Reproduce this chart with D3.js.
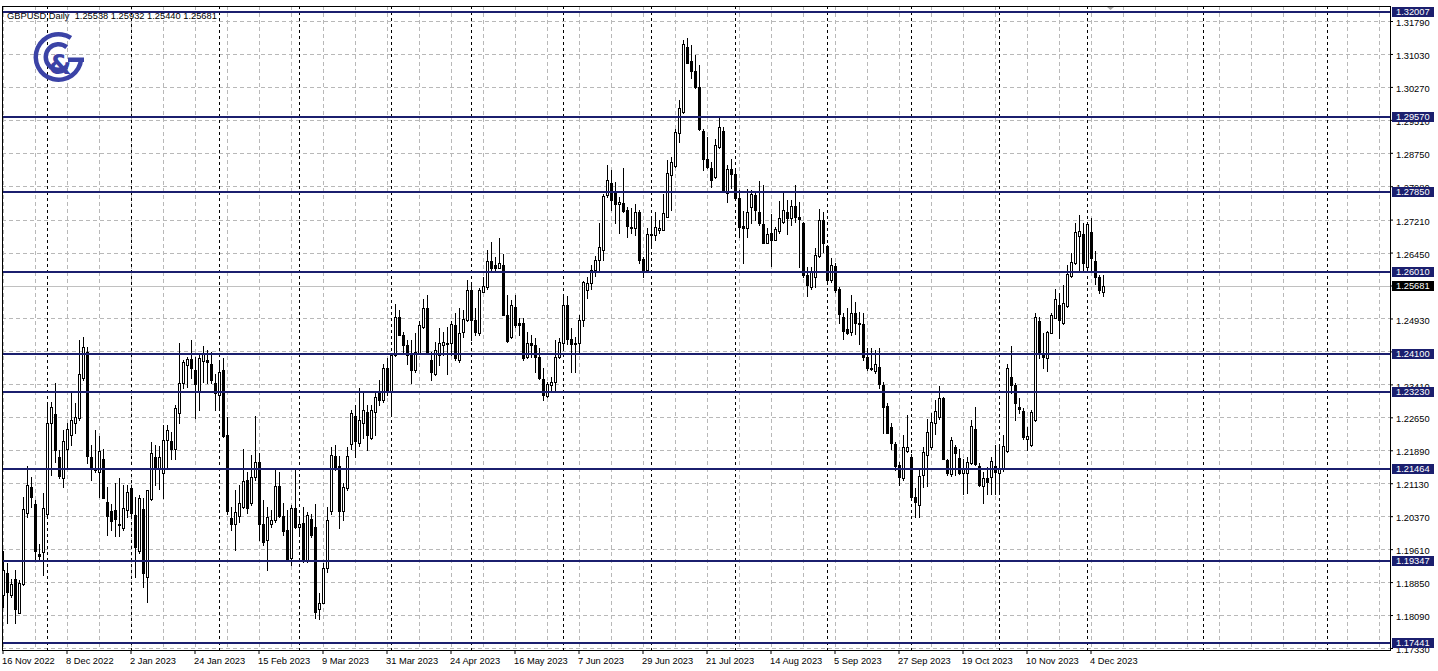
<!DOCTYPE html>
<html><head><meta charset="utf-8">
<script src="https://cdn.jsdelivr.net/npm/d3@7"></script>
<style>html,body{margin:0;padding:0;background:#fff;overflow:hidden}svg{display:block}</style>
</head><body><div id="chart"></div>
<script>
const titleText = "GBPUSD,Daily  1.25538 1.25932 1.25440 1.25681";
const startDate = "2022-11-16";
const holidays = ["2022-12-26"];

const open = [
1.1855,1.1907,1.1855,1.1893,1.1814,1.1880,1.2045,1.2105,1.2065,1.1949,
1.1955,1.2043,1.2253,1.2272,1.2173,1.2124,1.2191,1.2224,1.2253,1.2263,
1.2355,1.2416,1.2174,1.2143,1.2140,1.2168,1.2069,1.2050,1.2051,1.2020,
1.2009,1.2051,1.2101,1.2040,1.1957,1.2053,1.1897,1.2076,1.2174,1.2146,
1.2136,1.2213,1.2210,1.2191,1.2276,1.2343,1.2386,1.2399,1.2374,1.2324,
1.2396,1.2397,1.2388,1.2345,1.2316,1.2374,1.2224,1.2032,1.2018,1.2037,
1.2059,1.2120,1.2067,1.2128,1.2163,1.2019,1.1983,1.2020,1.2028,1.2107,
1.2037,1.2005,1.1940,1.2055,1.2011,1.2022,1.1933,1.2030,1.2011,1.1824,
1.1837,1.1917,1.2050,1.2176,1.2153,1.2050,1.2103,1.2203,1.2268,1.2206,
1.2253,1.2278,1.2218,1.2278,1.2320,1.2305,1.2378,1.2324,1.2409,1.2496,
1.2456,1.2432,1.2412,1.2374,1.2412,1.2474,1.2516,1.2397,1.2366,1.2409,
1.2432,1.2437,1.2436,1.2478,1.2397,1.2461,1.2489,1.2559,1.2489,1.2459,
1.2555,1.2566,1.2625,1.2616,1.2610,1.2616,1.2502,1.2451,1.2520,1.2482,
1.2482,1.2405,1.2436,1.2432,1.2405,1.2353,1.2315,1.2339,1.2347,1.2405,
1.2437,1.2525,1.2445,1.2435,1.2437,1.2490,1.2558,1.2574,1.2605,1.2628,
1.2652,1.2778,1.2806,1.2783,1.2756,1.2760,1.2743,1.2705,1.2702,1.2739,
1.2629,1.2605,1.2685,1.2685,1.2698,1.2698,1.2728,1.2824,1.2844,1.2921,
1.2970,1.3118,1.3087,1.3064,1.3026,1.2925,1.2860,1.2841,1.2820,1.2888,
1.2925,1.2783,1.2837,1.2826,1.2770,1.2706,1.2701,1.2749,1.2778,1.2738,
1.2711,1.2668,1.2691,1.2675,1.2695,1.2716,1.2738,1.2724,1.2752,1.2726,
1.2714,1.2593,1.2565,1.2588,1.2637,1.2719,1.2659,1.2582,1.2614,1.2560,
1.2497,1.2468,1.2462,1.2505,1.2483,1.2480,1.2403,1.2378,1.2372,1.2380,
1.2339,1.2291,1.2243,1.2203,1.2155,1.2124,1.2188,1.2173,1.2082,1.2063,
1.2132,1.2178,1.2197,1.2252,1.2266,1.2309,1.2166,1.2134,1.2197,1.2172,
1.2136,1.2137,1.2159,1.2239,1.2153,1.2106,1.2124,1.2128,1.2153,1.2137,
1.2145,1.2188,1.2359,1.2339,1.2288,1.2279,1.2214,1.2201,1.2259,1.2488,
1.2414,1.2401,1.2460,1.2495,1.2525,1.2483,1.2522,1.2591,1.2620,1.2684,
1.2688,1.2612,1.2692,1.2625,1.2588,1.25538];

const high = [
1.1957,1.1928,1.1893,1.1914,1.1890,1.2082,1.2153,1.2128,1.2074,1.1974,
1.2090,1.2301,1.2301,1.2343,1.2190,1.2236,1.2253,1.2324,1.2299,1.2443,
1.2451,1.2428,1.2201,1.2236,1.2222,1.2193,1.2105,1.2066,1.2113,1.2124,
1.2109,1.2109,1.2109,1.2082,1.2086,1.2078,1.2097,1.2209,1.2201,1.2199,
1.2247,1.2247,1.2232,1.2293,1.2436,1.2397,1.2405,1.2443,1.2403,1.2413,
1.2430,1.2420,1.2416,1.2366,1.2397,1.2401,1.2266,1.2059,1.2097,1.2109,
1.2193,1.2140,1.2178,1.2268,1.2182,1.2074,1.2059,1.2051,1.2147,1.2140,
1.2067,1.2051,1.2063,1.2147,1.2032,1.2059,1.2047,1.2043,1.2065,1.1859,
1.1930,1.2059,1.2197,1.2201,1.2176,1.2113,1.2197,1.2283,1.2293,1.2332,
1.2324,1.2293,1.2293,1.2324,1.2351,1.2387,1.2401,1.2412,1.2526,1.2512,
1.2462,1.2443,1.2443,1.2459,1.2486,1.2539,1.2547,1.2416,1.2439,1.2470,
1.2462,1.2474,1.2486,1.2505,1.2516,1.2512,1.2582,1.2574,1.2516,1.2564,
1.2589,1.2651,1.2670,1.2635,1.2679,1.2641,1.2547,1.2536,1.2547,1.2493,
1.2493,1.2462,1.2455,1.2447,1.2424,1.2378,1.2347,1.2359,1.2443,1.2447,
1.2545,1.2545,1.2470,1.2450,1.2500,1.2580,1.2589,1.2616,1.2636,1.2712,
1.2781,1.2847,1.2835,1.2808,1.2774,1.2839,1.2751,1.2747,1.2758,1.2743,
1.2635,1.2701,1.2728,1.2739,1.2720,1.2781,1.2858,1.2866,1.2931,1.2997,
1.3135,1.3139,1.3124,1.3101,1.3078,1.2931,1.2912,1.2854,1.2908,1.2957,
1.2935,1.2847,1.2860,1.2835,1.2789,1.2740,1.2791,1.2789,1.2782,1.2809,
1.2800,1.2701,1.2735,1.2705,1.2765,1.2785,1.2766,1.2766,1.2801,1.2762,
1.2716,1.2612,1.2611,1.2655,1.2745,1.2739,1.2662,1.2632,1.2620,1.2566,
1.2505,1.2516,1.2547,1.2532,1.2509,1.2505,1.2424,1.2424,1.2420,1.2424,
1.2347,1.2297,1.2251,1.2209,1.2163,1.2224,1.2270,1.2180,1.2101,1.2143,
1.2197,1.2260,1.2274,1.2306,1.2337,1.2312,1.2170,1.2220,1.2201,1.2193,
1.2170,1.2174,1.2259,1.2288,1.2159,1.2139,1.2151,1.2174,1.2201,1.2197,
1.2224,1.2389,1.2429,1.2345,1.2309,1.2286,1.2243,1.2282,1.2505,1.2497,
1.2459,1.2465,1.2505,1.2560,1.2551,1.2570,1.2616,1.2643,1.2714,1.2732,
1.2712,1.2712,1.2724,1.2649,1.2593,1.25932];

const low = [
1.1828,1.1790,1.1851,1.1790,1.1813,1.1878,1.2036,1.2059,1.1936,1.1936,
1.1901,1.2040,1.2132,1.2163,1.2124,1.2105,1.2151,1.2201,1.2228,1.2259,
1.2351,1.2159,1.2120,1.2140,1.2082,1.2078,1.1993,1.2005,1.1991,1.1991,
1.2006,1.2036,1.2036,1.1897,1.1953,1.1874,1.1840,1.2074,1.2109,1.2099,
1.2080,1.2151,1.2170,1.2168,1.2253,1.2332,1.2336,1.2355,1.2263,1.2282,
1.2347,1.2343,1.2345,1.2282,1.2282,1.2220,1.2043,1.2005,1.1960,1.2024,
1.2055,1.2045,1.2063,1.2120,1.1982,1.1970,1.1914,1.2013,1.2024,1.2036,
1.1993,1.1934,1.1924,1.2009,1.1997,1.1932,1.1932,1.1990,1.1803,1.1801,
1.1836,1.1909,1.2043,1.2143,1.2009,1.2028,1.2097,1.2193,1.2174,1.2199,
1.2217,1.2190,1.2214,1.2225,1.2293,1.2301,1.2316,1.2275,1.2407,1.2455,
1.2412,1.2389,1.2343,1.2370,1.2410,1.2472,1.2410,1.2351,1.2362,1.2386,
1.2409,1.2366,1.2409,1.2397,1.2393,1.2451,1.2486,1.2443,1.2455,1.2456,
1.2553,1.2562,1.2601,1.2601,1.2609,1.2501,1.2439,1.2447,1.2474,1.2455,
1.2397,1.2402,1.2405,1.2370,1.2353,1.2305,1.2313,1.2328,1.2324,1.2401,
1.2420,1.2435,1.2370,1.2370,1.2410,1.2475,1.2540,1.2560,1.2590,1.2605,
1.2628,1.2774,1.2743,1.2712,1.2689,1.2739,1.2681,1.2689,1.2685,1.2620,
1.2589,1.2601,1.2658,1.2674,1.2689,1.2697,1.2726,1.2743,1.2843,1.2901,
1.2966,1.3081,1.3047,1.3024,1.2928,1.2835,1.2839,1.2797,1.2816,1.2885,
1.2784,1.2762,1.2795,1.2766,1.2681,1.2620,1.2680,1.2712,1.2720,1.2709,
1.2666,1.2666,1.2614,1.2674,1.2691,1.2712,1.2688,1.2709,1.2716,1.2612,
1.2589,1.2545,1.2562,1.2565,1.2635,1.2647,1.2580,1.2578,1.2555,1.2482,
1.2445,1.2457,1.2455,1.2457,1.2434,1.2397,1.2374,1.2374,1.2368,1.2332,
1.2229,1.2228,1.2191,1.2143,1.2109,1.2120,1.2186,1.2074,1.2036,1.2034,
1.2105,1.2106,1.2193,1.2226,1.2262,1.2168,1.2132,1.2129,1.2132,1.2134,
1.2089,1.2091,1.2157,1.2155,1.2106,1.2068,1.2089,1.2089,1.2089,1.2089,
1.2142,1.2186,1.2320,1.2259,1.2274,1.2216,1.2189,1.2199,1.2257,1.2401,
1.2378,1.2372,1.2459,1.2493,1.2447,1.2480,1.2520,1.2588,1.2618,1.2605,
1.2605,1.2603,1.2603,1.2572,1.2551,1.25440];

const close = [
1.1914,1.1863,1.1880,1.1822,1.1884,1.2053,1.2110,1.2082,1.1957,1.1945,
1.2057,1.2253,1.2288,1.2190,1.2130,1.2210,1.2237,1.2259,1.2265,1.2366,
1.2428,1.2176,1.2151,1.2147,1.2187,1.2080,1.2037,1.2026,1.2030,1.2016,
1.2055,1.2092,1.2045,1.1965,1.2078,1.1907,1.2097,1.2183,1.2147,1.2174,
1.2213,1.2236,1.2192,1.2286,1.2343,1.2393,1.2399,1.2378,1.2341,1.2401,
1.2414,1.2393,1.2351,1.2320,1.2370,1.2223,1.2050,1.2020,1.2047,1.2068,
1.2117,1.2055,1.2128,1.2163,1.2020,1.1978,1.2036,1.2028,1.2107,1.2037,
1.2003,1.1936,1.2057,1.2011,1.2020,1.1936,1.2040,1.1993,1.1817,1.1837,
1.1917,1.2028,1.2178,1.2151,1.2050,1.2105,1.2176,1.2274,1.2211,1.2259,
1.2282,1.2224,1.2282,1.2313,1.2305,1.2378,1.2324,1.2409,1.2497,1.2456,
1.2432,1.2409,1.2374,1.2416,1.2479,1.2516,1.2412,1.2370,1.2420,1.2436,
1.2438,1.2433,1.2480,1.2401,1.2460,1.2492,1.2559,1.2489,1.2461,1.2559,
1.2568,1.2625,1.2610,1.2610,1.2620,1.2502,1.2441,1.2524,1.2478,1.2478,
1.2401,1.2436,1.2432,1.2405,1.2355,1.2316,1.2341,1.2346,1.2405,1.2439,
1.2525,1.2445,1.2435,1.2437,1.2490,1.2576,1.2574,1.2605,1.2628,1.2658,
1.2776,1.2812,1.2766,1.2758,1.2761,1.2741,1.2706,1.2702,1.2739,1.2628,
1.2605,1.2688,1.2688,1.2705,1.2701,1.2737,1.2829,1.2854,1.2924,1.2979,
1.3127,1.3083,1.3064,1.3026,1.2931,1.2860,1.2843,1.2812,1.2894,1.2934,
1.2785,1.2837,1.2826,1.2770,1.2705,1.2701,1.2738,1.2780,1.2742,1.2712,
1.2668,1.2688,1.2674,1.2699,1.2724,1.2743,1.2724,1.2752,1.2726,1.2722,
1.2593,1.2570,1.2599,1.2639,1.2719,1.2668,1.2582,1.2616,1.2559,1.2503,
1.2465,1.2460,1.2505,1.2483,1.2480,1.2403,1.2378,1.2376,1.2387,1.2342,
1.2289,1.2229,1.2205,1.2153,1.2128,1.2197,1.2197,1.2082,1.2070,1.2129,
1.2186,1.2232,1.2255,1.2280,1.2309,1.2170,1.2137,1.2212,1.2182,1.2137,
1.2145,1.2162,1.2245,1.2157,1.2109,1.2126,1.2116,1.2165,1.2139,1.2149,
1.2200,1.2378,1.2339,1.2297,1.2284,1.2220,1.2222,1.2277,1.2497,1.2411,
1.2405,1.2461,1.2502,1.2537,1.2489,1.2528,1.2595,1.2624,1.2692,1.2695,
1.2620,1.2710,1.2632,1.2589,1.2559,1.25681];

const priceTicks = ["1.31790","1.31030","1.30270","1.29510","1.28750","1.27980","1.27210","1.26450","1.25690","1.24930","1.24170","1.23410","1.22650","1.21890","1.21130","1.20370","1.19610","1.18850","1.18090","1.17330"];
const dateTicks = ["16 Nov 2022","8 Dec 2022","2 Jan 2023","24 Jan 2023","15 Feb 2023","9 Mar 2023","31 Mar 2023","24 Apr 2023","16 May 2023","7 Jun 2023","29 Jun 2023","21 Jul 2023","14 Aug 2023","5 Sep 2023","27 Sep 2023","19 Oct 2023","10 Nov 2023","4 Dec 2023"];
const levels = [1.32007,1.29570,1.27850,1.26010,1.24100,1.23230,1.21464,1.19347,1.17441];
const lastPrice = 1.25681;

(function () {
const W = 1438, H = 671;
const pL = 2, pT = 6, pR = 1390, pB = 650;
const NAVY = "#1b1f6e", GRID = "#b8b8b8", LOGO = "#3b43a6";
const FONT = "Liberation Sans, Arial, sans-serif";
const STEP = 4;

const N = Math.min(open.length, high.length, low.length, close.length);
const parseKey = d3.utcParse("%Y-%m-%d");
const fmtKey = d3.utcFormat("%Y-%m-%d");
const parseLabel = d3.utcParse("%d %b %Y");

// trading days for the bars
const dates = [];
let d = parseKey(startDate);
for (; dates.length < N; d = d3.utcDay.offset(d, 1)) {
  const wd = d.getUTCDay();
  if (wd !== 0 && wd !== 6 && !holidays.includes(fmtKey(d))) dates.push(d);
}
// projected (calendar-day) slots in the shifted empty area on the right
const slots = Math.floor((pR - 1) / STEP);
const allDates = dates.slice();
for (let f = d3.utcDay.offset(dates[N - 1], 1); allDates.length < slots; f = d3.utcDay.offset(f, 1)) allDates.push(f);
const allKeys = allDates.map(fmtKey);
const keys = allKeys.slice(0, N);

const x = d3.scaleBand().domain(allKeys).range([1, 1 + STEP * allKeys.length]);
const cx = k => Math.round(x(k) + x.bandwidth() / 2);
const y = d3.scaleLinear().domain([1.17330, 1.31790]).range([648, 21]);

const svg = d3.select("#chart").append("svg").attr("width", W).attr("height", H)
  .attr("font-family", FONT);
svg.append("rect").attr("width", W).attr("height", H).attr("fill", "#fff");

svg.append("clipPath").attr("id", "clip").append("rect")
  .attr("x", pL).attr("y", pT).attr("width", pR - pL).attr("height", pB - pT);
const plot = svg.append("g").attr("clip-path", "url(#clip)");

// horizontal grid
plot.append("g").selectAll("line").data(priceTicks).join("line")
  .attr("x1", pL).attr("x2", pR)
  .attr("y1", v => Math.round(y(+v)) + 0.5).attr("y2", v => Math.round(y(+v)) + 0.5)
  .attr("stroke", GRID).attr("stroke-dasharray", "4,3").attr("shape-rendering", "crispEdges");

// vertical grid every 8 slots
const gridKeys = allKeys.filter((k, i) => i % 8 === 0);
plot.append("g").selectAll("line").data(gridKeys).join("line")
  .attr("x1", k => cx(k) + 0.5).attr("x2", k => cx(k) + 0.5)
  .attr("y1", pT).attr("y2", pB)
  .attr("stroke", GRID).attr("stroke-dasharray", "4,3").attr("shape-rendering", "crispEdges");

// month separators
const sepKeys = allKeys.filter((k, i) => i > 0 && allDates[i].getUTCMonth() !== allDates[i - 1].getUTCMonth());
plot.append("g").selectAll("line").data(sepKeys).join("line")
  .attr("x1", k => cx(k) + 0.5).attr("x2", k => cx(k) + 0.5)
  .attr("y1", pT).attr("y2", pB)
  .attr("stroke", "#000").attr("stroke-dasharray", "3,3").attr("shape-rendering", "crispEdges");

// current price line
plot.append("line").attr("x1", pL).attr("x2", pR)
  .attr("y1", Math.round(y(lastPrice)) + 0.5).attr("y2", Math.round(y(lastPrice)) + 0.5)
  .attr("stroke", "#c0c0c0").attr("shape-rendering", "crispEdges");

// candles
const bars = d3.range(N).map(i => ({k: keys[i], o: open[i], h: high[i], l: low[i], c: close[i]}));
const cg = plot.append("g").attr("shape-rendering", "crispEdges");
cg.selectAll("line.wick").data(bars).join("line").attr("class", "wick")
  .attr("x1", b => cx(b.k) + 0.5).attr("x2", b => cx(b.k) + 0.5)
  .attr("y1", b => Math.round(y(b.h))).attr("y2", b => Math.round(y(b.l)) + 1)
  .attr("stroke", "#000");
cg.selectAll("rect.body").data(bars.filter(b => Math.round(y(b.o)) !== Math.round(y(b.c)))).join("rect")
  .attr("class", "body")
  .attr("x", b => cx(b.k) - 0.5)
  .attr("y", b => Math.round(y(Math.max(b.o, b.c))) + 0.5)
  .attr("width", 2)
  .attr("height", b => Math.abs(Math.round(y(b.o)) - Math.round(y(b.c))))
  .attr("fill", b => b.c >= b.o ? "#fff" : "#000")
  .attr("stroke", "#000");
cg.selectAll("line.doji").data(bars.filter(b => Math.round(y(b.o)) === Math.round(y(b.c)))).join("line")
  .attr("class", "doji")
  .attr("x1", b => cx(b.k) - 1).attr("x2", b => cx(b.k) + 2)
  .attr("y1", b => Math.round(y(b.c)) + 0.5).attr("y2", b => Math.round(y(b.c)) + 0.5)
  .attr("stroke", "#000");

// level lines
plot.append("g").selectAll("line").data(levels).join("line")
  .attr("x1", pL).attr("x2", pR)
  .attr("y1", v => Math.round(y(v))).attr("y2", v => Math.round(y(v)))
  .attr("stroke", NAVY).attr("stroke-width", 2).attr("shape-rendering", "crispEdges");

// frame
svg.append("rect").attr("x", pL + 0.5).attr("y", pT + 0.5)
  .attr("width", pR - pL).attr("height", pB - pT)
  .attr("fill", "none").attr("stroke", "#000").attr("shape-rendering", "crispEdges");

// chart shift marker
svg.append("path").attr("d", "M1107,7 L1114,7 L1110.5,10 Z").attr("fill", "#a8a8a8");

// price axis
const yAxis = d3.axisRight(y).tickValues(priceTicks.map(Number))
  .tickFormat((v, i) => priceTicks[i]).tickSize(3).tickPadding(3);
const ya = svg.append("g").attr("transform", `translate(${pR},0)`).call(yAxis);
ya.select(".domain").remove();
ya.selectAll("text").attr("font-size", 9.3).attr("font-family", FONT).attr("fill", "#000")
  .attr("dy", "0.5em");
ya.selectAll("line").attr("stroke", "#000");

// level labels
const lg = svg.append("g");
levels.forEach(p => {
  const yc = Math.round(y(p));
  lg.append("rect").attr("x", pR + 2).attr("y", yc - 5).attr("width", 42).attr("height", 10).attr("fill", NAVY);
  lg.append("text").attr("x", pR + 6).attr("y", yc + 3.4).attr("font-size", 9.3)
    .attr("fill", "#fff").text(p.toFixed(5));
});
{
  const yc = Math.round(y(lastPrice));
  lg.append("rect").attr("x", pR + 2).attr("y", yc - 5).attr("width", 42).attr("height", 10).attr("fill", "#000");
  lg.append("text").attr("x", pR + 6).attr("y", yc + 3.4).attr("font-size", 9.3)
    .attr("fill", "#fff").text(lastPrice.toFixed(5));
}

// time axis
const tickKeys = dateTicks.map(s => fmtKey(parseLabel(s)));
const xAxis = d3.axisBottom(x).tickValues(tickKeys)
  .tickFormat((k, i) => dateTicks[i]).tickSize(4).tickPadding(3);
const xa = svg.append("g").attr("transform", `translate(0,${pB})`).call(xAxis);
xa.select(".domain").remove();
xa.selectAll("text").attr("font-size", 9.3).attr("font-family", FONT).attr("fill", "#000")
  .attr("text-anchor", "start").attr("x", -1);
xa.selectAll("line").attr("stroke", "#000");

// title
svg.append("text").attr("x", 7).attr("y", 18.5).attr("font-size", 9.3).attr("fill", "#000")
  .style("white-space", "pre").text(titleText);

// logo
const logo = svg.append("g").attr("transform", "translate(58.5,57)");
logo.append("path").attr("d", d3.arc()({innerRadius: 20.5, outerRadius: 25, startAngle: Math.PI * 95 / 180, endAngle: Math.PI * 393 / 180})).attr("fill", LOGO);
logo.append("path").attr("d", d3.arc()({innerRadius: 10.5, outerRadius: 15, startAngle: Math.PI * 140 / 180, endAngle: Math.PI * 400 / 180})).attr("fill", LOGO);
logo.append("rect").attr("x", 9.5).attr("y", 0.5).attr("width", 16).attr("height", 4.5).attr("fill", LOGO);
logo.append("text").attr("x", 1.5).attr("y", 17).attr("text-anchor", "middle")
  .attr("font-family", "DejaVu Sans, sans-serif").attr("font-weight", "bold").attr("font-size", 26)
  .attr("fill", LOGO).text("&");
})();
</script>
</body></html>
